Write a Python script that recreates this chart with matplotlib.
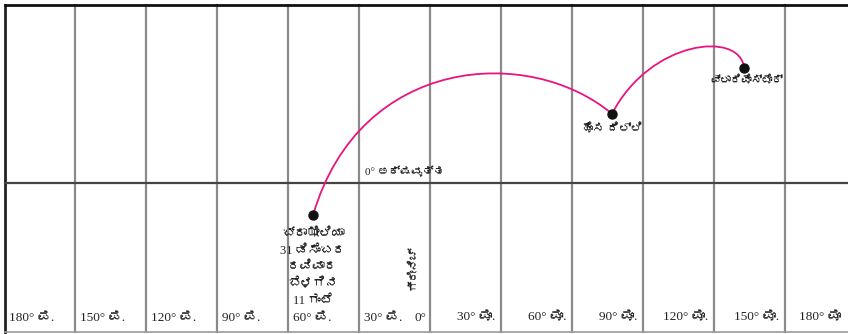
import matplotlib
matplotlib.use("Agg")
import matplotlib.pyplot as plt
from matplotlib import font_manager
from matplotlib.path import Path
from matplotlib.patches import PathPatch
from fontTools.ttLib import TTFont

# longitudes of the grid and the labels under them
grid_lons = [-150, -120, -90, -60, -30, 0, 30, 60, 90, 120, 150]
west_lons = [-180, -150, -120, -90, -60, -30]
west_labels = ["180° ಪ.", "150° ಪ.", "120° ಪ.", "90° ಪ.", "60° ಪ.", "30° ಪ."]
east_lons = [30, 60, 90, 120, 150, 180]
east_labels = ["30° ಪೂ.", "60° ಪೂ.", "90° ಪೂ.", "120° ಪೂ.", "150° ಪೂ.", "180° ಪೂ"]

# places on the route (lon, lat)
place_names = ["ಬ್ರಾಝೀಲಿಯಾ\n31 ಡಿಸೆಂಬರ\nರವಿವಾರ\nಬೆಳಗಿನ\n11 ಗಂಟೆ",
               "ಹೊಸ ದಿಲ್ಲಿ", "ವ್ಲಾದಿವೊಸ್ಟೊಕ್"]
place_lon = [-49.4, 76.9, 132.7]
place_lat = [-13.5, 29.2, 48.6]

# bezier control points of the two flight arcs
arc1_lon = [-49.4, -29.6, 42.2, 76.9]
arc1_lat = [-13.5, 54.1, 58.3, 29.2]
arc2_lon = [76.9, 92.9, 131.0, 132.7]
arc2_lat = [29.2, 60.4, 64.6, 48.6]

equator_label = "0° ಅಕ್ಷವೃತ್ತ"
greenwich_label = "ಗ್ರೀನಿಚ್"


def find_kannada_font():
    for f in font_manager.fontManager.ttflist:
        try:
            cmap = TTFont(f.fname, fontNumber=0, lazy=True).getBestCmap()
        except Exception:
            continue
        if cmap and 0x0C95 in cmap:
            return f.name
    return None


fams = ["Liberation Serif"]
kn = find_kannada_font()
if kn:
    fams.append(kn)
fams.append("DejaVu Sans")
plt.rcParams["font.family"] = fams

fig = plt.figure(figsize=(8.48, 3.34), dpi=100)
ax = fig.add_axes([0, 0, 1, 1])
ax.set_xlim(-181.7, 176.6)
ax.set_ylim(-63.8, 77.3)
ax.axis("off")

top, bottom, left = 75.2, -62.9, -179.6
for lon in grid_lons:
    ax.plot([lon, lon], [bottom, top], color="#8a8a8a", lw=1.6, zorder=1)
ax.plot([left, left], [bottom, top], color="#222222", lw=2, zorder=2)
ax.plot([left, 180], [top, top], color="#111111", lw=2, zorder=2)
ax.plot([left, 180], [bottom, bottom], color="#9a9a9a", lw=1.2, zorder=2)
ax.plot([left, 180], [0, 0], color="#444444", lw=1.6, zorder=2)

fs = 9.5
for lon, lab in zip(west_lons, west_labels):
    ax.text(lon + 2.3, -57.0, lab, ha="left", va="center", fontsize=fs, color="#222222")
for lon, lab in zip(east_lons, east_labels):
    # the 180° line is off the right edge, keep its label inside the picture
    ax.text(min(lon - 2.3, 173.5), -57.0, lab, ha="right", va="center",
            fontsize=fs, color="#222222")
ax.text(-1.5, -57.0, "0°", ha="right", va="center", fontsize=fs, color="#222222")
ax.text(-7.0, -35.9, greenwich_label, ha="center", va="center", rotation=90,
        fontsize=fs - 1.5, color="#222222")
ax.text(-27.5, 4.8, equator_label, ha="left", va="center", fontsize=fs - 1.5, color="#222222")

for lons, lats in [(arc1_lon, arc1_lat), (arc2_lon, arc2_lat)]:
    path = Path(list(zip(lons, lats)),
                [Path.MOVETO, Path.CURVE4, Path.CURVE4, Path.CURVE4])
    ax.add_patch(PathPatch(path, facecolor="none", edgecolor="#e8147f", lw=1.3, zorder=3))

ax.plot(place_lon, place_lat, "o", color="#111111", ms=6.5, zorder=4)
ax.text(place_lon[0], place_lat[0] - 5.7, place_names[0], ha="center", va="top",
        fontsize=fs - 0.5, color="#222222", linespacing=1.5)
ax.text(place_lon[1], place_lat[1] - 4.0, place_names[1], ha="center", va="top",
        fontsize=fs - 1, color="#222222")
ax.text(place_lon[2] + 1.0, place_lat[2] - 3.0, place_names[2], ha="center", va="top",
        fontsize=fs - 2, color="#222222")

fig.savefig("out.png", dpi=100)
